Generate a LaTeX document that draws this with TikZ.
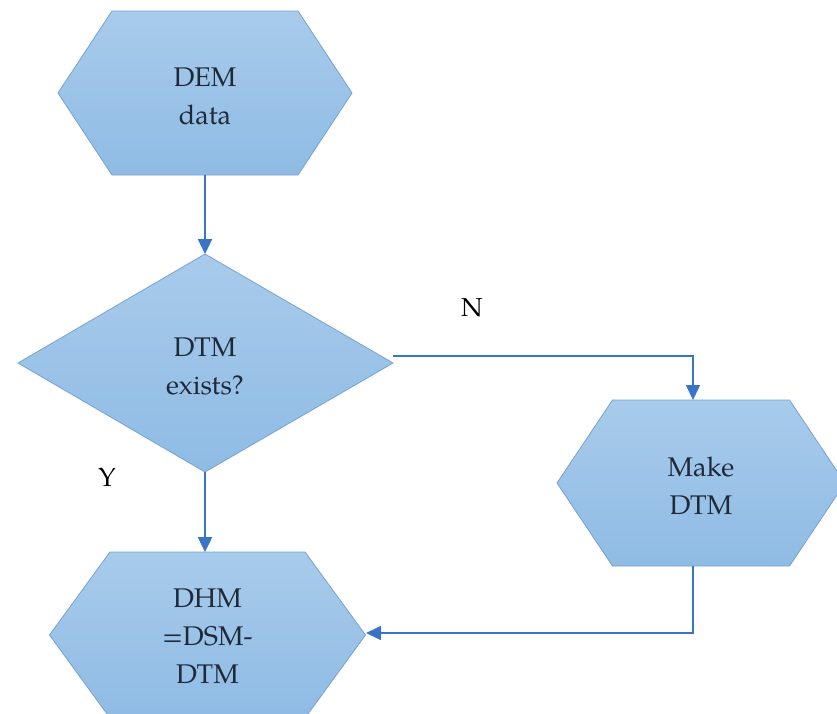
\documentclass[tikz,border=0pt]{standalone}
\usepackage{fontspec}
\setmainfont{TeX Gyre Pagella}
\usetikzlibrary{arrows.meta,calc}

\definecolor{boxtop}{HTML}{A8CBEB}
\definecolor{boxbot}{HTML}{8FBBE4}
\definecolor{boxedge}{HTML}{74A2D4}
\definecolor{flow}{HTML}{3A74C6}
\definecolor{ink}{HTML}{1E2A3A}

\tikzset{
  shapefill/.style={top color=boxtop, bottom color=boxbot, draw=boxedge, line width=0.8pt},
  label/.style={font=\fontsize{27}{38}\selectfont, text=ink, align=center, inner sep=0pt},
  branch/.style={font=\fontsize{26}{30}\selectfont, text=black, inner sep=0pt},
  flowline/.style={draw=flow, line width=2.4pt, -{Triangle[length=15pt,width=14pt]}},
  thinflow/.style={draw=flow, line width=1.6pt, -{Triangle[length=15pt,width=14pt]}}
}

% hexagon: centre, half width, inner half width, half height, name
\newcommand{\hexshape}[5]{%
  \path[shapefill] ($(#1)+(-#2,0)$) -- ($(#1)+(-#3,-#4)$) -- ($(#1)+(#3,-#4)$)
    -- ($(#1)+(#2,0)$) -- ($(#1)+(#3,#4)$) -- ($(#1)+(-#3,#4)$) -- cycle;
  \coordinate (#5 top) at ($(#1)+(0,-#4)$);
  \coordinate (#5 bottom) at ($(#1)+(0,#4)$);
  \coordinate (#5 left) at ($(#1)+(-#2,0)$);
  \coordinate (#5 right) at ($(#1)+(#2,0)$);
}

\begin{document}
\begin{tikzpicture}[x=1pt,y=-1pt]
\useasboundingbox (0,0) rectangle (837,713);
\clip (0,0) rectangle (837,713);

% shapes
\hexshape{205,93}{147}{93}{82}{dem}
\path[shapefill] (18,363) -- (205,254) -- (393,363) -- (205,472) -- cycle;
\coordinate (dtm top) at (205,254);
\coordinate (dtm bottom) at (205,472);
\coordinate (dtm right) at (393,356);
\hexshape{701,483}{144}{88.5}{83}{make}
\hexshape{207.5,635}{158}{97.5}{83}{dhm}

% texts
\node[label] (demtxt) at (205,96) {DEM\\data};
\node[label] (dtmtxt) at (205,366) {DTM\\exists?};
\node[label] (maketxt) at (701,486) {Make\\DTM};
\node[label] (dhmtxt) at (207.5,636) {DHM\\=DSM-\\DTM};
\node[branch] (nlab) at (472,308) {N};
\node[branch] (ylab) at (107,477) {Y};

% connectors
\coordinate (ncorner) at (693,356);
\coordinate (makein) at (693,400);
\coordinate (makeout) at (693,566);
\coordinate (rcorner) at (693,633);
\coordinate (dhmin) at (366,633);
\path[flowline] (dem bottom) -- (dtm top);
\path[flowline] (dtm bottom) -- (dtm bottom |- dhm top);
\path[thinflow] (dtm right) -- (ncorner) -- (makein);
\path[thinflow] (makeout) -- (rcorner) -- (dhmin);
\end{tikzpicture}
\end{document}
